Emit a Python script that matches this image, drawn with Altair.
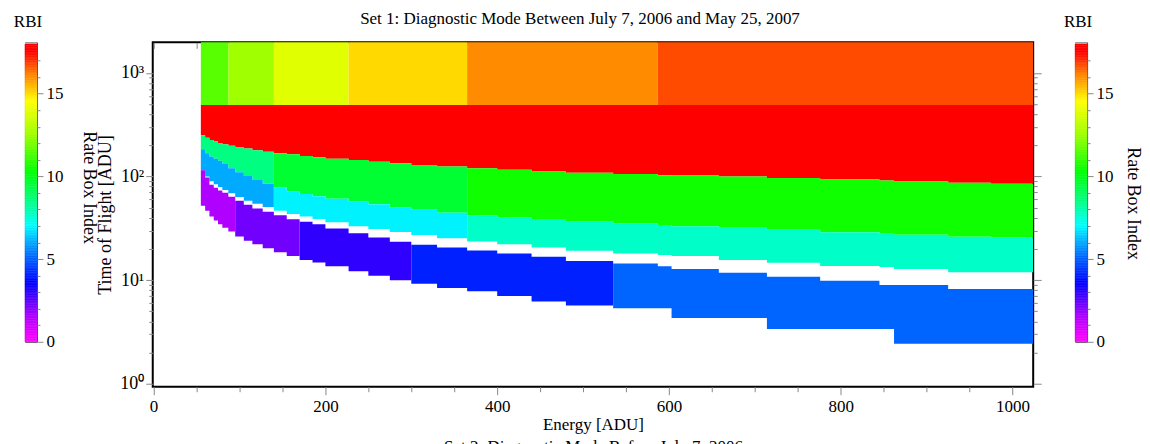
import altair as alt
import pandas as pd

FONT = "Liberation Serif"

# ---------------- data ----------------
# energy column edges (ADU)
E_EDGES = [55, 60, 65, 70, 75, 80, 87, 95, 105, 115, 127, 140, 155, 170, 185, 200,
           227, 250, 275, 300, 330, 365, 400, 440, 480, 535, 587, 603, 658, 714,
           776, 845, 862, 925, 975, 1024]

# time-of-flight boundaries (ADU) for each energy column
RED_BOTTOM = [250, 237, 225, 218, 211, 205, 198, 191, 186, 179, 173, 168, 164, 158,
              153, 148, 144, 139, 134, 129, 125, 120, 116, 112, 109, 106, 103, 102,
              100, 97.0, 93.6, 91.7, 89.3, 87.2, 85.2]
GREEN_BOTTOM = [183, 168, 156, 148, 142, 132, 120, 110, 101, 92.5, 85.1, 78.5, 72.2,
                67.8, 64.5, 61.1, 57.7, 54.0, 50.3, 47.7, 44.7, 42.3, 40.4, 38.8, 37.0,
                35.2, 34.1, 33.1, 32.0, 30.6, 28.9, 28.1, 27.4, 26.2, 25.8]
CYAN_BOTTOM = [115, 99.8, 89.9, 84.1, 79.1, 74.1, 68.9, 63.3, 58.3, 54.5, 50.9, 46.8,
               43.5, 41.1, 38.9, 36.1, 33.1, 31.1, 29.1, 27.3, 25.3, 23.6, 22.2, 20.7,
               19.2, 18.1, 17.5, 17.1, 15.6, 14.7, 13.7, 13.4, 12.8, 11.9, 11.9]
BLUE_TOP = [115, 98.0, 83.4, 78.0, 73.3, 69.7, 63.9, 58.2, 53.3, 49.1, 45.6, 42.2, 38.6,
            36.5, 34.6, 31.5, 28.3, 25.8, 23.5, 22.0, 20.6, 19.3, 18.1, 16.8, 15.3,
            14.5, 13.6, 12.8, 11.8, 10.8, 9.89, 8.99, 8.99, 8.23, 8.23]
BLUE_BOTTOM = [52.1, 46.7, 41.2, 37.6, 34.7, 32.1, 29.5, 26.3, 24.0, 22.2, 20.3, 18.6,
               17.1, 15.6, 14.8, 13.6, 12.2, 11.0, 10.0, 9.25, 8.41, 7.80, 7.03, 6.22,
               5.69, 5.34, 5.34, 4.30, 4.30, 3.37, 3.37, 3.37, 2.43, 2.43, 2.43]

# top band (constant time-of-flight range)
TOP_BAND = [490, 2048]
TOP_EDGES = [55, 87, 140, 227, 365, 587, 1024]
TOP_RBI = [11.5, 12.5, 13.85, 15.0, 16.0, 16.7]
RED_SPLITS, RED_RBI = [], [17.5]
GREEN_SPLITS, GREEN_RBI = [140, 365], [8.5, 9.6, 10.5]
CYAN_SPLITS, CYAN_RBI = [140, 365], [6.0, 6.85, 7.65]
BLUE_SPLITS, BLUE_RBI = [95, 170, 300, 535], [1.5, 2.2, 2.95, 4.0, 5.05]

# colour map of the RBI colour bar
CMAP_STOPS = [0, 1.5, 3.5, 5, 6, 7, 8.5, 10.3, 12.5, 14.5, 16, 17.5, 18]
CMAP_COLORS = ["#ff00ff", "#b000ff", "#0000ff", "#0060ff", "#00aaff", "#00ffff",
               "#00ff80", "#00ff00", "#a0ff00", "#ffff00", "#ff8c00", "#ff0000", "#ff0000"]

X_TICKS = list(range(0, 1001, 50))
Y_TICKS = [m * 10 ** k for k in range(3) for m in range(1, 10)] + [1000]
CB_TICKS = list(range(18))

# ---------------- build tables ----------------
n_cols = len(E_EDGES) - 1
bands = [
    ("red", RED_BOTTOM, [TOP_BAND[0]] * n_cols, RED_SPLITS, RED_RBI),
    ("green", GREEN_BOTTOM, RED_BOTTOM, GREEN_SPLITS, GREEN_RBI),
    ("cyan", CYAN_BOTTOM, GREEN_BOTTOM, CYAN_SPLITS, CYAN_RBI),
    ("blue", BLUE_BOTTOM, BLUE_TOP, BLUE_SPLITS, BLUE_RBI),
]
rows = []
for name, lo, hi, splits, rbis in bands:
    bounds = [E_EDGES[0]] + splits + [E_EDGES[-1]]
    for k, r in enumerate(rbis):
        s0, s1 = bounds[k], bounds[k + 1]
        idx = [i for i in range(n_cols) if s0 <= E_EDGES[i] < s1]
        for i in idx:
            rows.append(dict(seg=f"{name}{k}", e=E_EDGES[i], lo=lo[i], hi=hi[i], rbi=r))
        last = idx[-1]
        rows.append(dict(seg=f"{name}{k}", e=s1, lo=lo[last], hi=hi[last], rbi=r))
band_df = pd.DataFrame(rows)

top_df = pd.DataFrame({"e0": TOP_EDGES[:-1], "e1": TOP_EDGES[1:],
                       "t0": TOP_BAND[0], "t1": TOP_BAND[1], "rbi": TOP_RBI})

cscale = alt.Scale(domain=CMAP_STOPS, range=CMAP_COLORS, interpolate="rgb")
xscale = alt.Scale(domain=[-1, 1024], nice=False, zero=False)
yscale = alt.Scale(type="log", domain=[0.936, 1972], nice=False)

MAJOR_X = "datum.value % 200 == 0"
MAJOR_Y = "datum.value == 1 || datum.value == 10 || datum.value == 100 || datum.value == 1000"
SUP = ("datum.value == 1 ? '10\u2070' : datum.value == 10 ? '10\u00b9' : "
       "datum.value == 100 ? '10\u00b2' : datum.value == 1000 ? '10\u00b3' : ''")

bottom_axis = alt.Axis(
    orient="bottom", values=X_TICKS, grid=False, domain=False,
    labelExpr=f"{MAJOR_X} ? '' + datum.value : ''", labelFlush=False, labelOverlap=False,
    tickSize={"condition": {"test": MAJOR_X, "value": 8}, "value": 5},
    labelFont=FONT, labelFontSize=17, labelPadding=4,
    title=["Energy [ADU]", "Set 2: Diagnostic Mode Before July 7, 2006"],
    titleFont=FONT, titleFontSize=17, titleFontWeight="normal", titlePadding=2,
    titleLineHeight=22,
)
top_axis = alt.Axis(orient="top", values=X_TICKS, grid=False, domain=False,
                    labels=False, tickSize=6, offset=-6, title=None)
left_axis = alt.Axis(
    orient="left", values=Y_TICKS, grid=False, domain=False, labelExpr=SUP,
    labelOverlap=False,
    tickSize={"condition": {"test": MAJOR_Y, "value": 7}, "value": 4},
    labelFont=FONT, labelFontSize=18, labelPadding=2, labelFlush=False,
    title="Time of Flight [ADU]", titleFont=FONT, titleFontSize=18,
    titleFontWeight="normal", titlePadding=5,
)
right_axis = alt.Axis(
    orient="right", values=Y_TICKS, grid=False, domain=False, labels=False,
    tickSize={"condition": {"test": MAJOR_Y, "value": 8}, "value": 4}, title=None,
)

top_rects = alt.Chart(top_df).mark_rect(clip=True).encode(
    x=alt.X("e0:Q", scale=xscale, axis=None),
    x2="e1:Q",
    y=alt.Y("t0:Q", scale=yscale, axis=None),
    y2="t1:Q",
    fill=alt.Fill("rbi:Q", scale=cscale, legend=None),
)
areas = alt.Chart(band_df).mark_area(interpolate="step-after", clip=True).encode(
    x=alt.X("e:Q", scale=xscale, axis=bottom_axis),
    y=alt.Y("lo:Q", scale=yscale, axis=left_axis),
    y2="hi:Q",
    fill=alt.Fill("rbi:Q", scale=cscale, legend=None),
    detail="seg:N",
)
mirror = alt.Chart(top_df).mark_point(opacity=0).encode(
    x=alt.X("e0:Q", scale=xscale, axis=top_axis),
    y=alt.Y("t0:Q", scale=yscale, axis=right_axis),
)
main = alt.layer(top_rects, areas, mirror).resolve_axis(
    x="independent", y="independent"
).properties(
    width=882, height=345,
    title=alt.TitleParams("Set 1: Diagnostic Mode Between July 7, 2006 and May 25, 2007",
                          font=FONT, fontSize=17, fontWeight="normal", color="black",
                          dx=-13, offset=14),
    view=alt.ViewBackground(stroke="black", strokeWidth=2),
)

# ---------------- colour bars ----------------
CB_LEVELS = [round(0.1 * i, 1) for i in range(180)]
cb_df = pd.DataFrame({"v": CB_LEVELS, "v2": [round(v + 0.1, 1) for v in CB_LEVELS],
                      "x0": 0, "x1": 1})
cap_df = pd.DataFrame({"v": [18.0], "v2": [18.1], "x0": [0], "x1": [1]})
MAJOR_CB = "datum.value % 5 == 0"


def colorbar(title_pad, title_y):
    cb_axis = alt.Axis(
        orient="right", values=CB_TICKS, grid=False, domain=False,
        labelExpr=f"{MAJOR_CB} ? '' + datum.value : ''", labelFlush=False,
        labelOverlap=False,
        tickSize={"condition": {"test": MAJOR_CB, "value": 6}, "value": 3},
        labelFont=FONT, labelFontSize=17, labelPadding=3,
        title="Rate Box Index", titleFont=FONT, titleFontSize=18,
        titleFontWeight="normal", titleAngle=90, titlePadding=title_pad, titleY=title_y,
    )
    ys = alt.Scale(domain=[0, 18.1], nice=False, zero=False)
    xs = alt.Scale(domain=[0, 1], nice=False, zero=False)
    grad = alt.Chart(cb_df).mark_rect(strokeWidth=0.5).encode(
        x=alt.X("x0:Q", scale=xs, axis=None), x2="x1:Q",
        y=alt.Y("v:Q", scale=ys, axis=cb_axis), y2="v2:Q",
        fill=alt.Fill("v:Q", scale=cscale, legend=None),
        stroke=alt.Stroke("v:Q", scale=cscale, legend=None),
    )
    cap = alt.Chart(cap_df).mark_rect(color="#a8a8a8").encode(
        x=alt.X("x0:Q", scale=xs, axis=None), x2="x1:Q",
        y=alt.Y("v:Q", scale=ys, axis=cb_axis), y2="v2:Q",
    )
    return alt.layer(grad, cap).properties(
        width=12, height=300,
        title=alt.TitleParams("RBI", font=FONT, fontSize=17, fontWeight="normal",
                              color="black", dx=-3, offset=11),
        view=alt.ViewBackground(stroke="#444444", strokeWidth=1),
    )


left_cb = colorbar(17, 145)
right_cb = colorbar(10, 161)

chart = alt.hconcat(
    left_cb, alt.hconcat(main, right_cb, spacing=20), spacing=-3
).properties(
    padding={"left": 5, "top": 0, "right": 0, "bottom": 0}
).configure_view(stroke=None).configure_axis(
    labelColor="black", tickColor="black", titleColor="black", tickWidth=1,
    labelOverlap=False,
).configure(font=FONT)

chart.save("out.html", embed_options={"renderer": "svg", "actions": False})
